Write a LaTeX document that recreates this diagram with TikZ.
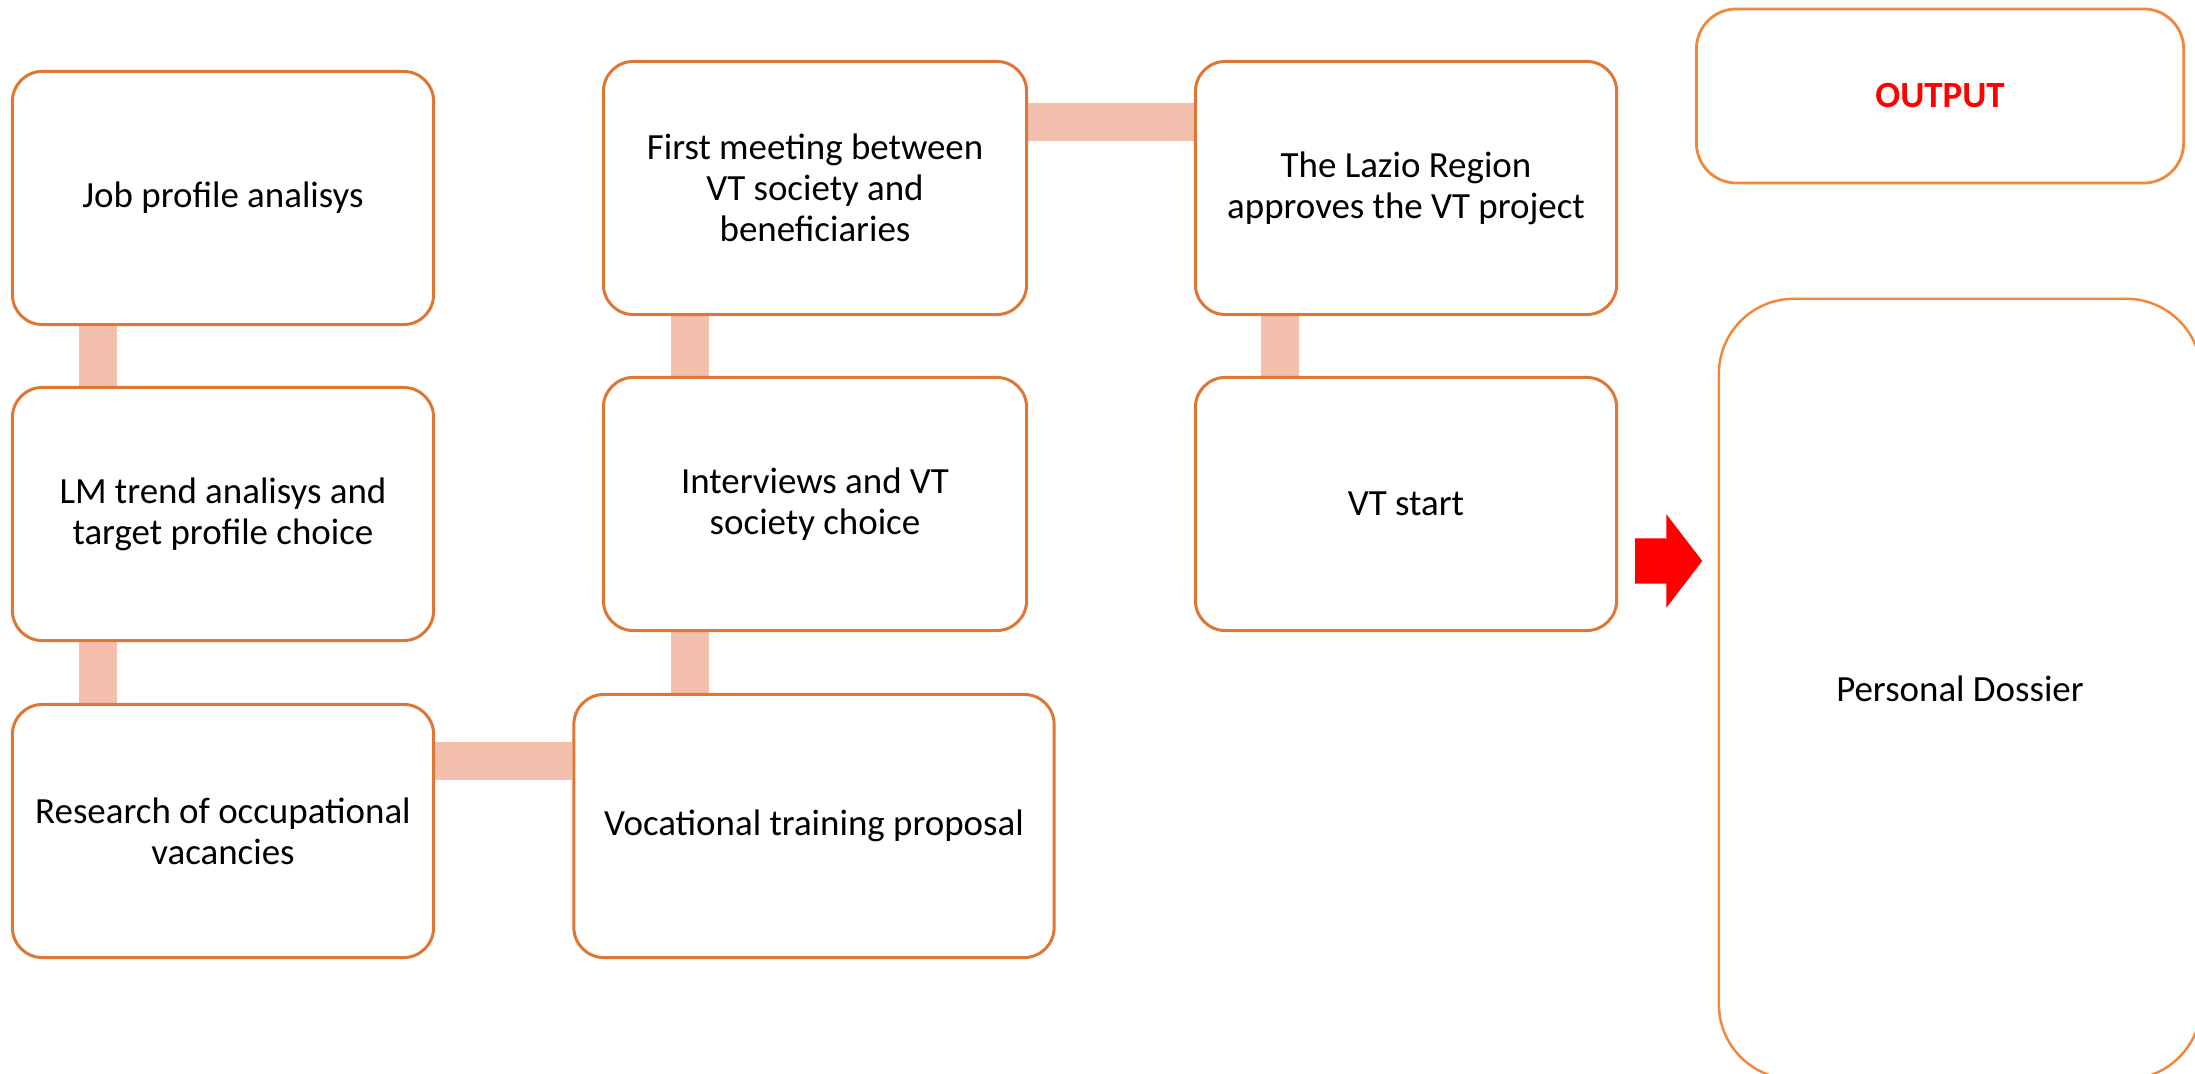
\documentclass[tikz,border=0pt]{standalone}
\usepackage{fontspec}
\setmainfont{Carlito}
\usetikzlibrary{shapes.arrows,positioning,backgrounds}
\definecolor{boxline}{HTML}{DE7734}
\definecolor{outline}{HTML}{F0873A}
\definecolor{linkfill}{HTML}{F4C0AE}
\tikzset{
  stepbox/.style={rectangle, rounded corners=0.3cm, draw=boxline, line width=0.85pt, fill=white, align=center, font=\fontsize{10.5}{11.7}\selectfont, minimum width=4.21cm, minimum height=2.53cm, inner sep=2pt},
  link/.style={line width=0.38cm, linkfill, line cap=butt},
  lbl/.style={font=\fontsize{10.5}{11.7}\selectfont, align=center}
}

\begin{document}
\begin{tikzpicture}[x=0.01cm, y=-0.01cm,
    outbox/.style={rectangle, draw=outline, line width=0.8pt, fill=white, align=center, font=\fontsize{10.5}{11.7}\selectfont},
    bigarrow/.style={single arrow, fill=red, draw=none, inner xsep=0pt, inner ysep=0.22cm, minimum height=0.67cm, single arrow head extend=0.24cm, single arrow tip angle=105}
  ]
    \useasboundingbox (0,0) rectangle (2195,1074);

    % first column
    \node[stepbox] (job) at (223,198) {Job profile analisys};
    \node[stepbox] (trend) at (223,514) {LM trend analisys and\\ target profile choice};
    \node[stepbox] (research) at (223,831) {Research of occupational\\ vacancies};

    % second column
    \node[stepbox, minimum width=4.80cm, minimum height=2.63cm] (proposal) at (814,826) {Vocational training proposal};
    \node[stepbox, minimum width=4.23cm] (interviews) at (815,504) {Interviews and VT\\ society choice};
    \node[stepbox, minimum width=4.23cm] (meeting) at (815,188) {First meeting between\\ VT society and\\ beneficiaries};

    % third column
    \node[stepbox] (lazio) at (1406,188) {The Lazio Region\\ approves the VT project};
    \node[stepbox] (vtstart) at (1406,504) {VT start};

    % output side
    \node[outbox, rounded corners=0.4cm, minimum width=4.87cm, minimum height=1.74cm, text=red, font=\fontsize{10.5}{11.7}\selectfont\bfseries] (output) at (1940,96) {OUTPUT};
    \node[outbox, rounded corners=0.75cm, line width=0.7pt, minimum width=4.82cm, minimum height=7.80cm] (dossier) at (1960,689) {Personal Dossier};
    \node[bigarrow] (toout) at (1660,561) {};

    % connector tracks
    \coordinate (colA) at (98,0);
    \coordinate (colB) at (690,0);
    \coordinate (colC) at (1280,0);
    \coordinate (rowA) at (0,761);
    \coordinate (rowB) at (0,122);
    \begin{scope}[on background layer]
      \draw[link] (job.south -| colA) -- (trend.north -| colA);
      \draw[link] (trend.south -| colA) -- (research.north -| colA);
      \draw[link] (research.east |- rowA) -- (proposal.west |- rowA);
      \draw[link] (proposal.north -| colB) -- (interviews.south -| colB);
      \draw[link] (interviews.north -| colB) -- (meeting.south -| colB);
      \draw[link] (meeting.east |- rowB) -- (lazio.west |- rowB);
      \draw[link] (lazio.south -| colC) -- (vtstart.north -| colC);
    \end{scope}
  \end{tikzpicture}
\end{document}
